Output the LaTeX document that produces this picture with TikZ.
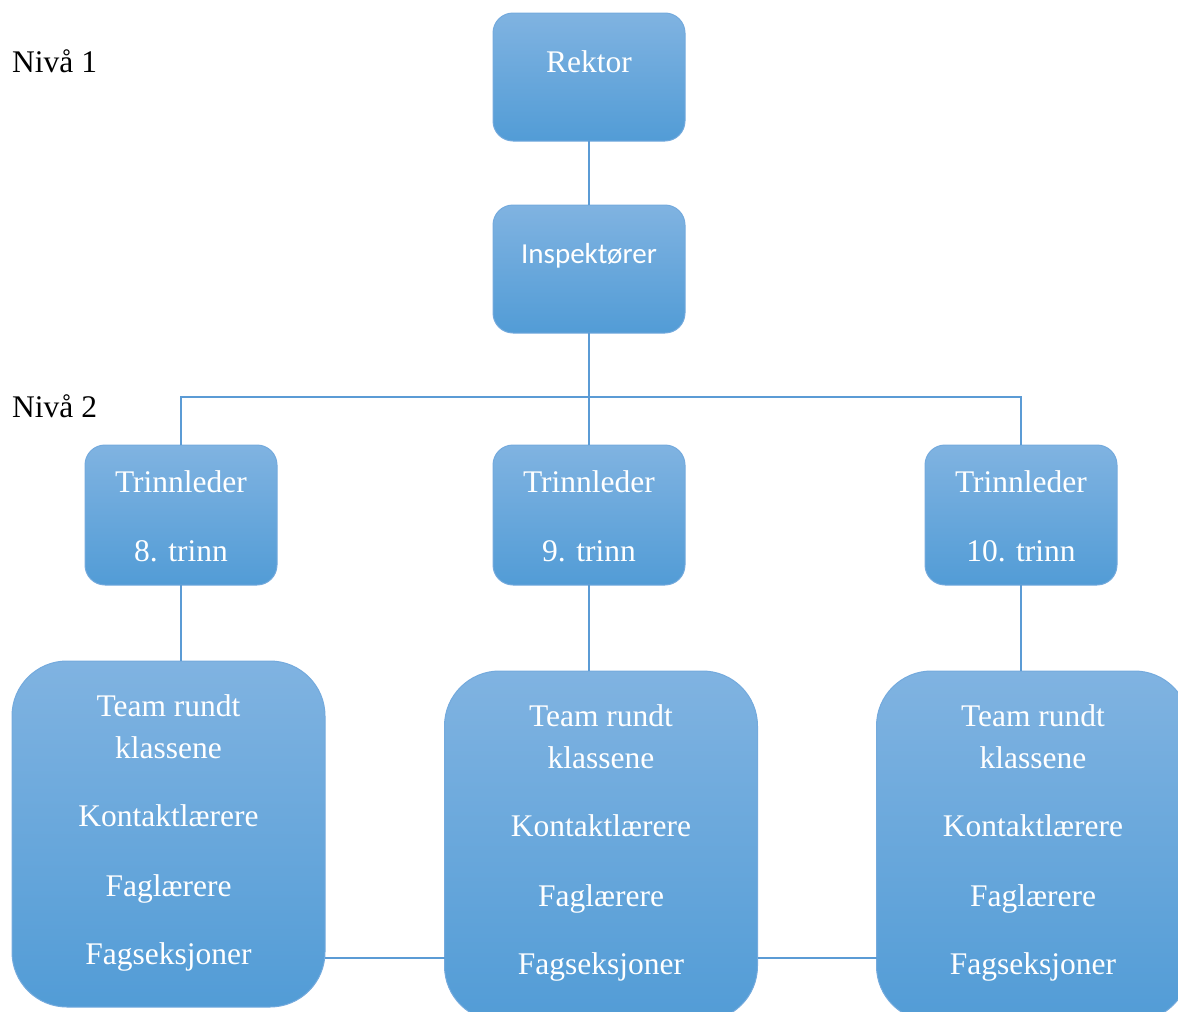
\documentclass[tikz,border=0pt]{standalone}
\usepackage{fontspec}
\setmainfont{Liberation Serif}
\newfontfamily\calfont{Carlito}
\definecolor{boxtop}{HTML}{80B3E1}
\definecolor{boxbot}{HTML}{529CD6}
\definecolor{boxrim}{HTML}{74AADD}
\definecolor{linkcol}{HTML}{5B9BD5}
\begin{document}
\begin{tikzpicture}[x=1pt,y=-1pt,
  box/.style={draw=boxrim, line width=1pt, top color=boxtop, bottom color=boxbot,
    inner sep=0pt, outer sep=0pt, rounded corners=20pt},
  smallbox/.style={box, minimum width=192pt, minimum height=128pt},
  trinnbox/.style={box, minimum width=192pt, minimum height=140pt},
  bigbox/.style={box, rounded corners=55pt, minimum width=313pt, minimum height=346pt},
  txt/.style={anchor=base, text=white, inner sep=0pt, font=\fontsize{31.5}{38}\selectfont},
  lbl/.style={anchor=base west, text=black, inner sep=0pt, font=\fontsize{31.5}{38}\selectfont},
  link/.style={draw=linkcol, line width=2pt}]
\useasboundingbox (0,0) rectangle (1178,1012);
\begin{scope}
\clip (0,0) rectangle (1178,1012);

% level labels
\node[lbl] (niva1) at (12,72) {Nivå 1};
\node[lbl] (niva2) at (12,417) {Nivå 2};

% top of the hierarchy
\node[smallbox] (rektor) at (589,77) {};
\node[smallbox] (insp) at (589,269) {};
\node[txt] (rektortxt) at (589,72) {Rektor};
\node[txt, font=\calfont\fontsize{29}{34}\selectfont] (insptxt) at (589,263) {Inspektører};

% grade leaders
\node[trinnbox] (t8) at (181,515) {};
\node[trinnbox] (t9) at (589,515) {};
\node[trinnbox] (t10) at (1021,515) {};
\node[txt] (t8a) at (181,492) {Trinnleder};
\node[txt] (t8b) at (181,561) {8. trinn};
\node[txt] (t9a) at (589,492) {Trinnleder};
\node[txt] (t9b) at (589,561) {9. trinn};
\node[txt] (t10a) at (1021,492) {Trinnleder};
\node[txt] (t10b) at (1021,561) {10. trinn};

% teams
\node[bigbox] (b8) at (168.5,834) {};
\node[bigbox, minimum height=350pt] (b9) at (601,846) {};
\node[bigbox, minimum height=350pt] (b10) at (1033,846) {};
\foreach \nm/\cx/\dy in {b8/168.5/0, b9/601/10, b10/1033/10}{
  \node[txt] (\nm-1) at (\cx,716+\dy) {Team rundt};
  \node[txt] (\nm-2) at (\cx,758+\dy) {klassene};
  \node[txt] (\nm-3) at (\cx,826+\dy) {Kontaktlærere};
  \node[txt] (\nm-4) at (\cx,896+\dy) {Faglærere};
  \node[txt] (\nm-5) at (\cx,964+\dy) {Fagseksjoner};
}

% connectors
\coordinate (bus) at (589,397);
\coordinate (teamline) at (0,958);
\draw[link] (rektor.south) -- (insp.north);
\draw[link] (insp.south) -- (t9.north);
\draw[link] (t8.north) |- (bus) -| (t10.north);
\draw[link] (t8.south) -- (t8.south |- b8.north);
\draw[link] (t9.south) -- (t9.south |- b9.north);
\draw[link] (t10.south) -- (t10.south |- b10.north);
\draw[link] (b8.east |- teamline) -- (b9.west |- teamline);
\draw[link] (b9.east |- teamline) -- (b10.west |- teamline);
\end{scope}
\end{tikzpicture}
\end{document}
